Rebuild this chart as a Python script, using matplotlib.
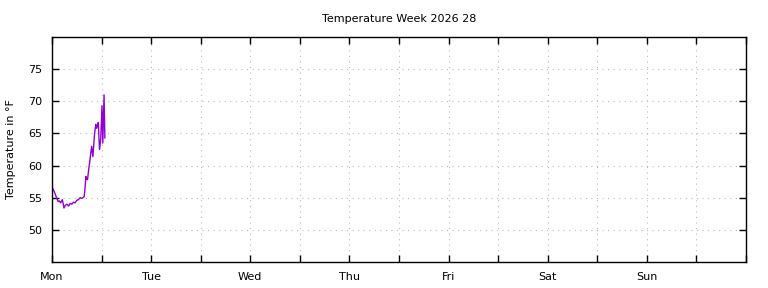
import matplotlib
matplotlib.use("Agg")
import matplotlib.pyplot as plt

# hours since Monday 00:00 and temperature in F
hours = [0.0, 0.3, 0.7, 1.1, 1.5, 1.8, 2.1, 2.5, 2.7, 2.9, 3.2, 3.6, 4.0, 4.4, 4.8, 5.2, 5.6,
         6.0, 6.4, 6.8, 7.2, 7.5, 7.8, 8.0, 8.2, 8.4, 8.6, 8.9, 9.2, 9.4, 9.6, 9.9, 10.1,
         10.3, 10.6, 10.8, 11.0, 11.2, 11.5, 11.8, 12.1, 12.3, 12.6, 12.8]
temps = [56.7, 56.3, 55.7, 55.0, 54.4, 54.5, 54.2, 54.7, 54.1, 53.4, 53.8, 54.0, 53.7, 54.1, 54.0,
         54.3, 54.2, 54.6, 54.7, 55.0, 54.9, 55.0, 55.2, 56.5, 58.3, 57.9, 57.8, 59.5, 60.9, 62.0,
         63.0, 61.4, 63.2, 64.9, 66.4, 65.8, 66.2, 66.7, 62.5, 64.1, 69.3, 63.5, 71.0, 64.3]

days = ["Mon", "Tue", "Wed", "Thu", "Fri", "Sat", "Sun"]
ticks_y = [50, 55, 60, 65, 70, 75]

plt.rcParams["font.family"] = ["DejaVu Sans"]
plt.rcParams["font.size"] = 8

fig = plt.figure(figsize=(7.68, 2.88), dpi=100)
ax = fig.add_axes([52 / 768, 26 / 288, 694 / 768, 225 / 288])

x = [h / 24 for h in hours]
ax.plot(x, temps, color="#9400d3", lw=1)

ax.set_xlim(0, 7)
ax.set_ylim(45, 80)
ax.set_xticks([i * 0.5 for i in range(15)])
ax.set_xticklabels([days[i // 2] if i % 2 == 0 and i // 2 < 7 else "" for i in range(15)])
ax.set_yticks(ticks_y)
ax.tick_params(direction="in", top=True, right=True, length=5, width=1, pad=7)
ax.grid(True, color="#bbbbbb", linestyle=(0, (1, 4)), lw=0.8)
for s in ax.spines.values():
    s.set_linewidth(1)

ax.set_title("Temperature Week 2026 28", fontsize=8, pad=11)
ax.set_ylabel("Temperature in °F", labelpad=9)

fig.savefig("out.png", dpi=100)
